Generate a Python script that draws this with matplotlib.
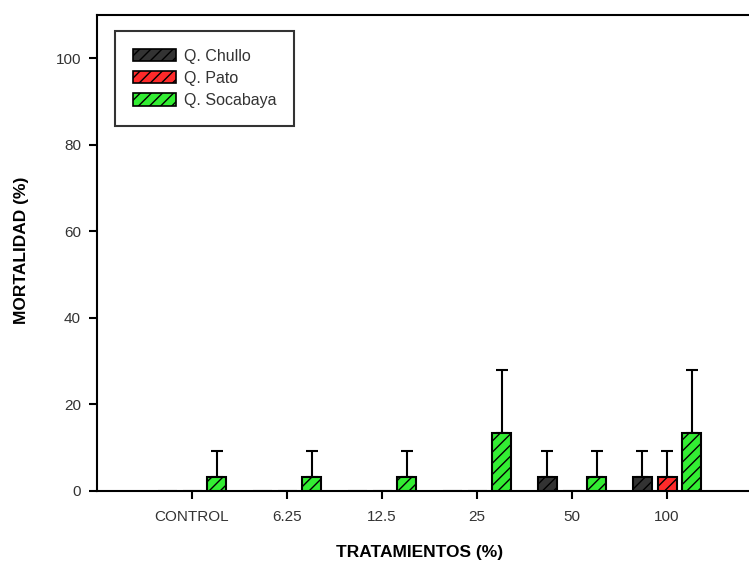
import numpy as np
import matplotlib
matplotlib.use("Agg")
import matplotlib.pyplot as plt
from matplotlib.patches import Patch

plt.rcParams["font.family"] = ["Liberation Sans", "DejaVu Sans"]
plt.rcParams["hatch.linewidth"] = 1.0

# Data
tratamientos = ["CONTROL", "6.25", "12.5", "25", "50", "100"]
series = ["Q. Chullo", "Q. Pato", "Q. Socabaya"]
chullo = [0, 0, 0, 0, 3.33, 3.33]
chullo_err = [0, 0, 0, 0, 6, 6]
pato = [0, 0, 0, 0, 0, 3.33]
pato_err = [0, 0, 0, 0, 0, 6]
socabaya = [3.33, 3.33, 3.33, 13.33, 3.33, 13.33]
socabaya_err = [6, 6, 6, 14.67, 6, 14.67]

colors = ["#333333", "#ff2a2a", "#33ee33"]
offsets = [-0.26, 0.0, 0.26]
width = 0.2

fig = plt.figure(figsize=(7.49, 5.65), dpi=100)
ax = fig.add_axes([97 / 749, 1 - 491 / 565, 665 / 749, 476 / 565])

x = np.arange(len(tratamientos))
for vals, errs, col, off in zip([chullo, pato, socabaya],
                                [chullo_err, pato_err, socabaya_err],
                                colors, offsets):
    vals = np.array(vals)
    errs = np.array(errs)
    ax.bar(x + off, vals, width=width, color=col, edgecolor="black",
           linewidth=1.5, hatch="///", zorder=3)
    mask = errs > 0
    ax.errorbar(x[mask] + off, vals[mask], yerr=[np.zeros(mask.sum()), errs[mask]],
                fmt="none", ecolor="black", elinewidth=1.5, capsize=4.5,
                capthick=1.5, zorder=2)

ax.set_xlim(-1, 6)
ax.set_ylim(0, 110)
ax.set_xticks(x)
ax.set_xticklabels(tratamientos)
ax.set_yticks(np.arange(0, 101, 20))
ax.tick_params(direction="out", length=6, width=1.5, labelsize=11,
               labelcolor="#333333")
ax.tick_params(axis="y", pad=5.5)
ax.tick_params(axis="x", pad=8)
for s in ax.spines.values():
    s.set_linewidth(1.5)

ax.set_xlabel("TRATAMIENTOS (%)", fontsize=12.5, fontweight="bold", va="center")
ax.set_ylabel("MORTALIDAD (%)", fontsize=12.5, fontweight="bold", va="center")
ax.xaxis.set_label_coords((420 - 97) / 665, -(552 - 491) / 476)
ax.yaxis.set_label_coords(-(97 - 22) / 665, (491 - 250) / 476)

handles = [Patch(facecolor=c, edgecolor="black", hatch="///", linewidth=1.2)
           for c in colors]
leg = ax.legend(handles, series, loc="upper left",
                bbox_to_anchor=((115 - 97) / 665, (491 - 31) / 476),
                fontsize=11.5, frameon=True, fancybox=False, handlelength=2.7,
                handleheight=0.8, borderpad=1.1, labelspacing=0.45,
                handletextpad=0.5, borderaxespad=0)
leg.get_frame().set_edgecolor("black")
leg.get_frame().set_linewidth(1.5)
for t in leg.get_texts():
    t.set_color("#333333")

fig.savefig("out.png", dpi=100)
